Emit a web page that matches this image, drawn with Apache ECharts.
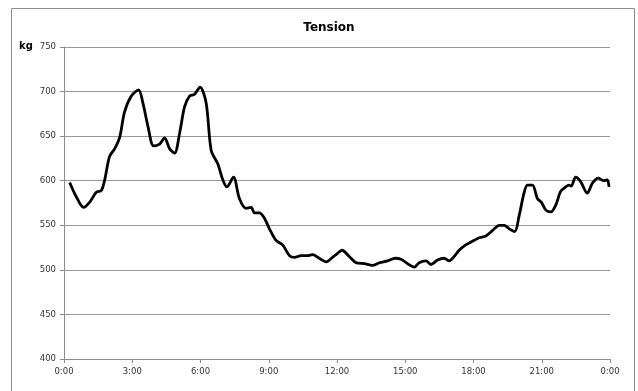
<!DOCTYPE html>
<html>
<head>
<meta charset="utf-8">
<script src="https://cdn.jsdelivr.net/npm/echarts@6/dist/echarts.min.js"></script>
<style>
  html, body { margin: 0; padding: 0; background: #fff; }
  #main { width: 638px; height: 391px; }
</style>
</head>
<body>
<div id="main"></div>
<script>
// time of day in hours
var hours = [0.25, 0.54, 0.86, 1.13, 1.42, 1.64, 1.79, 2.0, 2.23, 2.45, 2.66, 2.96, 3.28, 3.47, 3.69, 3.94,
  4.2, 4.42, 4.64, 4.86, 5.08, 5.3, 5.52, 5.74, 5.98, 6.25, 6.47, 6.76, 6.98, 7.16, 7.45, 7.71,
  8.0, 8.23, 8.37, 8.59, 8.81, 9.03, 9.32, 9.61, 9.91, 10.13, 10.42, 10.71, 10.93, 11.22, 11.52, 11.8,
  12.0, 12.22, 12.54, 12.84, 13.2, 13.56, 13.86, 14.22, 14.56, 14.81, 15.1, 15.4, 15.61, 15.91, 16.13, 16.42,
  16.71, 16.93, 17.15, 17.37, 17.66, 17.88, 18.25, 18.54, 18.83, 19.13, 19.35, 19.57, 19.81, 20.0, 20.22, 20.37,
  20.59, 20.81, 20.98, 21.18, 21.4, 21.62, 21.83, 22.05, 22.2, 22.3, 22.49, 22.71, 23.0, 23.22, 23.48, 23.74,
  23.88, 23.96]
// tension in kg
var tension = [598, 582, 570, 576, 587, 589, 601, 627, 636, 649, 677, 695, 702, 687, 661, 639,
  641, 648, 636, 631, 653, 683, 695, 697, 705, 687, 634, 619, 601, 593, 604, 580,
  569, 570, 564, 564, 558, 546, 533, 528, 516, 514, 516, 516, 517, 513, 509, 514,
  518, 522, 515, 508, 507, 505, 508, 510, 513, 512, 507, 503, 508, 510, 506, 511,
  513, 510, 515, 522, 528, 531, 536, 538, 544, 550, 550, 546, 543, 560, 586, 595,
  595, 580, 576, 567, 565, 573, 588, 593, 595, 594, 604, 599, 586, 597, 603, 600,
  601, 593]
var xTicks = [0, 3, 6, 9, 12, 15, 18, 21, 24]
var yTicks = [400, 450, 500, 550, 600, 650, 700, 750]

var lineData = []
hours.forEach(function (h, i) {
    lineData.push([h, tension[i]])
})

var chart = echarts.init(document.getElementById('main'))
chart.setOption({
    animation: false,
    title: {
        text: 'Tension',
        left: 324,
        textAlign: 'center',
        top: 17,
        textStyle: { fontFamily: 'DejaVu Sans', fontSize: 12, fontWeight: 'bold', color: '#000' }
    },
    graphic: [
        {
            type: 'rect',
            shape: { x: 11.5, y: 8.5, width: 623, height: 392 },
            style: { fill: 'none', stroke: '#8c8c8c', lineWidth: 1 }
        },
        {
            type: 'text',
            left: 19,
            top: 41,
            style: { text: 'kg', font: 'bold 10px "DejaVu Sans"', fill: '#000' }
        }
    ],
    grid: { left: 64, right: 28, top: 47, bottom: 32 },
    xAxis: {
        type: 'value',
        min: xTicks[0],
        max: xTicks[xTicks.length - 1],
        interval: 3,
        axisLine: { lineStyle: { color: '#8c8c8c' } },
        axisTick: { show: true, length: 4, lineStyle: { color: '#8c8c8c' } },
        splitLine: { show: false },
        axisLabel: {
            margin: 8,
            color: '#333',
            fontFamily: 'DejaVu Sans',
            fontSize: 8.5,
            formatter: function (v) { return (v % 24) + ':00' }
        }
    },
    yAxis: {
        type: 'value',
        min: yTicks[0],
        max: yTicks[yTicks.length - 1],
        interval: 50,
        axisLine: { show: true, lineStyle: { color: '#8c8c8c' } },
        axisTick: { show: true, length: 4, lineStyle: { color: '#8c8c8c' } },
        splitLine: { lineStyle: { color: '#999', width: 1 } },
        axisLabel: { margin: 8, color: '#333', fontFamily: 'DejaVu Sans', fontSize: 8.5 }
    },
    series: [{
        type: 'line',
        data: lineData,
        smooth: 0.3,
        showSymbol: false,
        lineStyle: { color: '#000', width: 2.8 }
    }]
})
</script>
</body>
</html>
